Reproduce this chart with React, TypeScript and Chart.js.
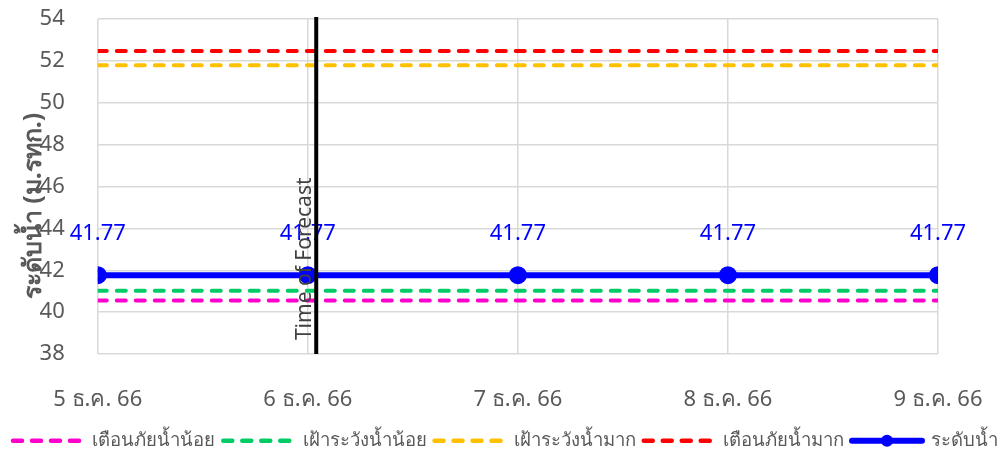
import React, { useEffect, useRef } from "react";
import { Chart, registerables } from "chart.js";

Chart.register(...registerables);

const dates = ["5 ธ.ค. 66", "6 ธ.ค. 66", "7 ธ.ค. 66", "8 ธ.ค. 66", "9 ธ.ค. 66"];
const waterLevel = [41.77, 41.77, 41.77, 41.77, 41.77];
const warnLow = [40.56, 40.56, 40.56, 40.56, 40.56];
const watchLow = [41.02, 41.02, 41.02, 41.02, 41.02];
const watchHigh = [51.79, 51.79, 51.79, 51.79, 51.79];
const warnHigh = [52.47, 52.47, 52.47, 52.47, 52.47];
const forecastPos = 1.04;
const yMin = 38;
const yMax = 54;
const yTitle = "ระดับน้ำ (ม.รทก.)";

const FONT = "'Noto Sans', 'Open Sans', sans-serif";
const GRAY = "#595959";

const toXY = (arr: number[]) => arr.map((y, i) => ({ x: i, y }));

export default function App() {
  const ref = useRef<HTMLCanvasElement>(null);
  useEffect(() => {
    document.body.style.margin = "0";
    document.body.style.overflow = "hidden";
    const ctx = ref.current!.getContext("2d")!;

    const labelPlugin = {
      id: "labels",
      afterDatasetsDraw(chart: any) {
        const c = chart.ctx;
        const meta = chart.getDatasetMeta(4);
        c.save();
        c.font = `22px ${FONT}`;
        c.fillStyle = "#0000ff";
        c.textAlign = "center";
        c.textBaseline = "middle";
        meta.data.forEach((el: any, i: number) => {
          c.fillText(waterLevel[i].toFixed(2), el.x, el.y - 41);
        });
        c.restore();
      },
    };

    const forecastPlugin = {
      id: "forecast",
      afterDraw(chart: any) {
        const c = chart.ctx;
        const x = chart.scales.x.getPixelForValue(forecastPos);
        const { top, bottom } = chart.chartArea;
        c.save();
        c.strokeStyle = "#000";
        c.lineWidth = 4;
        c.beginPath();
        c.moveTo(x, top - 2);
        c.lineTo(x, bottom);
        c.stroke();
        c.translate(x - 1, bottom - 14);
        c.rotate(-Math.PI / 2);
        c.font = `21px ${FONT}`;
        c.fillStyle = "#404040";
        c.textAlign = "left";
        c.textBaseline = "bottom";
        c.fillText("Time of Forecast", 0, 0);
        c.restore();
        const lg = chart.legend;
        if (lg && lg.legendHitBoxes && lg.legendHitBoxes[4]) {
          const hb = lg.legendHitBoxes[4];
          const bw = chart.options.plugins.legend.labels.pointStyleWidth;
          c.save();
          c.fillStyle = "#0000ff";
          c.beginPath();
          c.arc(hb.left + bw / 2, hb.top + hb.height / 2, 6, 0, Math.PI * 2);
          c.fill();
          c.restore();
        }
      },
    };

    const dashed = (label: string, data: number[], color: string) => ({
      label,
      data: toXY(data),
      borderColor: color,
      backgroundColor: color,
      borderWidth: 4,
      borderDash: [9, 10],
      borderCapStyle: "round" as const,
      pointRadius: 0,
    });

    const chart = new Chart(ctx, {
      type: "line",
      data: {
        datasets: [
          dashed("เตือนภัยน้ำน้อย", warnLow, "#ff00cc"),
          dashed("เฝ้าระวังน้ำน้อย", watchLow, "#00cc66"),
          dashed("เฝ้าระวังน้ำมาก", watchHigh, "#ffc000"),
          dashed("เตือนภัยน้ำมาก", warnHigh, "#ff0000"),
          {
            label: "ระดับน้ำ",
            data: toXY(waterLevel),
            borderColor: "#0000ff",
            backgroundColor: "#0000ff",
            borderWidth: 6,
            pointRadius: 6,
            pointHoverRadius: 6,
            pointStyle: "circle",
          } as any,
        ],
      },
      options: {
        animation: false,
        responsive: true,
        maintainAspectRatio: false,
        layout: { padding: { left: 5, right: 0, top: 19, bottom: -3 } },
        scales: {
          x: {
            type: "linear",
            min: 0,
            max: dates.length - 1,
            ticks: {
              stepSize: 1,
              autoSkip: false,
              maxRotation: 0,
              padding: 32,
              color: GRAY,
              font: { family: FONT, size: 22 },
              callback: (v: any) => dates[v as number] ?? "",
            },
            grid: { color: "#d9d9d9", lineWidth: 1.5, drawTicks: false },
            border: { display: false },
            afterFit: (s: any) => {
              s.height = s.height - 21;
            },
          } as any,
          y: {
            min: yMin,
            max: yMax,
            ticks: {
              stepSize: 2,
              padding: 33,
              color: GRAY,
              font: { family: FONT, size: 22 },
            },
            grid: { color: "#d9d9d9", lineWidth: 1.5, drawTicks: false },
            border: { display: false },
            title: {
              display: true,
              text: yTitle + "      ",
              color: GRAY,
              font: { family: FONT, size: 25, weight: "bold" },
              padding: { top: 14, bottom: -42.4 },
            },
            afterFit: (s: any) => {
              s.paddingTop = 0;
              s.paddingBottom = 0;
            },
          } as any,
          yPad: {
            position: "right",
            min: 0,
            max: 1,
            display: true,
            ticks: { display: false, padding: 0 },
            grid: { display: false },
            border: { display: false },
            afterFit: (s: any) => {
              s.width = 92;
              s.paddingTop = 0;
              s.paddingBottom = 0;
            },
          } as any,
        },
        plugins: {
          legend: {
            position: "bottom",
            align: "start",
            labels: {
              usePointStyle: true,
              pointStyleWidth: 70,
              boxHeight: 8,
              padding: 8,
              color: GRAY,
              font: { family: FONT, size: 18.5 },
              generateLabels: (ch: any) => {
                const items = (Chart.defaults.plugins.legend.labels as any).generateLabels(ch);
                return items.map((it: any, i: number) => {
                  const ds: any = ch.data.datasets[i];
                  return {
                    ...it,
                    pointStyle: "line",
                    lineDash: ds.borderDash || [],
                    lineCap: "round",
                    lineWidth: i === 4 ? 6 : 4.5,
                    strokeStyle: ds.borderColor,
                    fillStyle: ds.borderColor,
                  };
                });
              },
            },
          },
          tooltip: { enabled: false },
        },
      },
      plugins: [labelPlugin, forecastPlugin],
    });
    return () => chart.destroy();
  }, []);

  return (
    <div style={{ position: "fixed", left: 0, top: 0, width: 1030, height: 457 }}>
      <canvas ref={ref} />
    </div>
  );
}
